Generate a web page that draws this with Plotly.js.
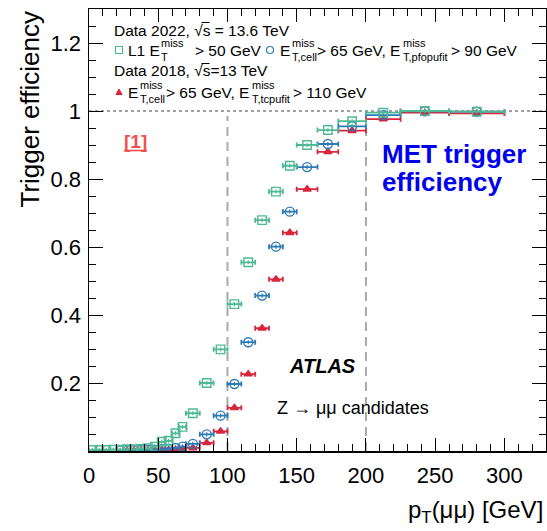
<!DOCTYPE html>
<html>
<head>
<meta charset="utf-8">
<script src="https://cdn.plot.ly/plotly-3.0.1.min.js"></script>
<style>
  html, body { margin: 0; padding: 0; background: #fff; }
  #chart { width: 547px; height: 531px; }
</style>
</head>
<body>
<div id="chart"></div>
<script>
// L1 MET > 50 GeV (Data 2022): bin centres, half widths, efficiencies
const l1Centers = [2.5, 7.5, 12.5, 17.5, 22.5, 27.5, 32.5, 37.5, 42.5, 47.5, 52.5, 57.5, 62.5, 67.5,
                   75, 85, 95, 105, 115, 125, 135, 145, 157.5, 172.5, 190, 212.5, 242.5, 280];
const l1HalfWidths = [2.5, 2.5, 2.5, 2.5, 2.5, 2.5, 2.5, 2.5, 2.5, 2.5, 2.5, 2.5, 2.5, 2.5,
                      5, 5, 5, 5, 5, 5, 5, 5, 7.5, 7.5, 10, 12.5, 17.5, 20];
const l1Eff = [0.003, 0.003, 0.003, 0.004, 0.004, 0.005, 0.005, 0.006, 0.008, 0.013, 0.027, 0.030, 0.052, 0.071,
               0.111, 0.200, 0.299, 0.432, 0.555, 0.679, 0.763, 0.839, 0.900, 0.944, 0.970, 0.995, 1.000, 0.998];

// cell > 65 GeV, pfopufit > 90 GeV (Data 2022)
const pfoCenters = [22.5, 27.5, 32.5, 37.5, 42.5, 47.5, 52.5, 57.5, 62.5, 67.5,
                    75, 85, 95, 105, 115, 125, 135, 145, 157.5, 172.5, 190, 212.5, 242.5, 280];
const pfoHalfWidths = [2.5, 2.5, 2.5, 2.5, 2.5, 2.5, 2.5, 2.5, 2.5, 2.5,
                       5, 5, 5, 5, 5, 5, 5, 5, 7.5, 7.5, 10, 12.5, 17.5, 20];
const pfoEff = [0.002, 0.002, 0.002, 0.003, 0.003, 0.004, 0.005, 0.007, 0.009, 0.013,
                0.021, 0.049, 0.104, 0.197, 0.320, 0.457, 0.601, 0.704, 0.835, 0.903, 0.955, 0.988, 0.999, 0.998];

// cell > 65 GeV, tcpufit > 110 GeV (Data 2018)
const tcCenters = [27.5, 32.5, 37.5, 42.5, 47.5, 52.5, 57.5, 62.5, 67.5,
                   75, 85, 95, 105, 115, 125, 135, 145, 157.5, 172.5, 190, 212.5, 242.5, 280];
const tcHalfWidths = [2.5, 2.5, 2.5, 2.5, 2.5, 2.5, 2.5, 2.5, 2.5,
                      5, 5, 5, 5, 5, 5, 5, 5, 7.5, 7.5, 10, 12.5, 17.5, 20];
const tcEff = [0.001, 0.001, 0.002, 0.002, 0.002, 0.003, 0.003, 0.004, 0.006,
               0.009, 0.024, 0.058, 0.127, 0.226, 0.361, 0.505, 0.642, 0.770, 0.880, 0.942, 0.976, 0.995, 0.993];

const xTickVals = [0, 50, 100, 150, 200, 250, 300];
const xTickText = ['0', '50', '100', '150', '200', '250', '300'];
const yTickVals = [0.2, 0.4, 0.6, 0.8, 1.0, 1.2];
const yTickText = ['0.2', '0.4', '0.6', '0.8', '1', '1.2'];

const GREEN = '#4fb995';
const BLUE = '#2c7bb6';
const RED = '#d7263d';
const FONT = 'Liberation Sans, Arial, Helvetica, sans-serif';

// plot frame in page pixels
const W = 547, H = 531;
const M = { l: 89, r: 1, t: 9, b: 80 };
const PW = W - M.l - M.r, PH = H - M.t - M.b;
const px = (x) => (x - M.l) / PW;
const py = (y) => (M.t + PH - y) / PH;

function series(x, hw, y, name, color, symbol, size, withY) {
  return {
    type: 'scatter', mode: 'markers', name: name,
    x: x, y: y,
    error_x: { type: 'data', array: hw, visible: true, color: color, thickness: 1.8, width: 2.5 },
    error_y: withY ? { type: 'constant', value: 0.006, visible: true, color: color, thickness: 1.2, width: 0 }
                   : { visible: false },
    marker: { symbol: symbol, size: size, color: color, line: { color: color, width: 1.4 } },
    showlegend: false, cliponaxis: true
  };
}

const traces = [
  series(tcCenters, tcHalfWidths, tcEff, 'tcpufit', RED, 'triangle-up', 7, false),
  series(pfoCenters, pfoHalfWidths, pfoEff, 'pfopufit', BLUE, 'circle-open', 9, true),
  series(l1Centers, l1HalfWidths, l1Eff, 'L1', GREEN, 'square-open', 8.5, true)
];

function txt(text, x, y, size, opts) {
  return Object.assign({
    xref: 'paper', yref: 'paper', x: px(x), y: py(y),
    xanchor: 'left', yanchor: 'middle', showarrow: false,
    text: text, font: { family: FONT, size: size, color: '#000' }, borderpad: 0
  }, opts || {});
}

const LS = 15.5, SS = 11;
const r1 = 30, r2 = 50, r3 = 71, r4 = 92;
const UP = 7, DN = 7;
const annotations = [
  txt('Data 2022, √s = 13.6 TeV', 113, r1, LS),
  txt('L1 E', 127, r2, LS),
  txt('miss', 160, r2 - UP, SS), txt('T', 160, r2 + DN, SS),
  txt('> 50 GeV', 194, r2, LS),
  txt('E', 279, r2, LS),
  txt('miss', 291, r2 - UP, SS), txt('T,cell', 291, r2 + DN, SS),
  txt('> 65 GeV, E', 316, r2, LS),
  txt('miss', 402, r2 - UP, SS), txt('T,pfopufit', 402, r2 + DN, SS),
  txt('> 90 GeV', 450, r2, LS),
  txt('Data 2018, √s=13 TeV', 113, r3, LS),
  txt('E', 127, r4, LS),
  txt('miss', 139, r4 - UP, SS), txt('T,cell', 139, r4 + DN, SS),
  txt('> 65 GeV, E', 165, r4, LS),
  txt('miss', 251, r4 - UP, SS), txt('T,tcpufit', 251, r4 + DN, SS),
  txt('> 110 GeV', 292, r4, LS),

  txt('<b>[1]</b>', 135.5, 141, 19,
      { xanchor: 'center', font: { family: FONT, size: 19, color: '#f25050' } }),
  txt('<b>MET trigger</b>', 381, 154, 26, { font: { family: FONT, size: 26, color: '#0000f0' } }),
  txt('<b>efficiency</b>', 381, 182, 26, { font: { family: FONT, size: 26, color: '#0000f0' } }),
  txt('<b><i>ATLAS</i></b>', 288, 366, 20),
  txt('Z → μμ candidates', 276, 408, 18),

  txt('p<sub>T</sub>(μμ) [GeV]', 544, 511, 24, { xanchor: 'right' }),
  txt('Trigger efficiency', 29, 10, 26, { xanchor: 'center', yanchor: 'top', textangle: -90 })
];

// legend marker glyphs, sized in pixels
function pixShape(type, cx, cy, size, color, filled) {
  return {
    type: type, xref: 'paper', yref: 'paper', xsizemode: 'pixel', ysizemode: 'pixel',
    xanchor: px(cx), yanchor: py(cy),
    x0: -size / 2, x1: size / 2, y0: -size / 2, y1: size / 2,
    line: { color: color, width: 1.2 }, fillcolor: filled ? color : 'rgba(0,0,0,0)'
  };
}

// short horizontal stroke given in page pixels
function pixLine(xa, xb, y, color, width) {
  return { type: 'line', xref: 'paper', yref: 'paper', x0: px(xa), x1: px(xb), y0: py(y), y1: py(y),
           line: { color: color, width: width } };
}

const shapes = [
  // unit efficiency reference
  { type: 'line', xref: 'paper', yref: 'y', x0: 0, x1: 1, y0: 1, y1: 1,
    line: { color: '#444', width: 1, dash: '3px,3px' }, layer: 'below' },
  // offline thresholds
  { type: 'line', xref: 'x', yref: 'y', x0: 100, x1: 100, y0: 0, y1: 0.985,
    line: { color: '#aaaaaa', width: 2, dash: '9px,6px' }, layer: 'below' },
  { type: 'line', xref: 'x', yref: 'y', x0: 200, x1: 200, y0: 0, y1: 0.985,
    line: { color: '#aaaaaa', width: 2, dash: '9px,6px' }, layer: 'below' },
  pixShape('rect', 119, r2, 7, GREEN, false),
  pixShape('circle', 270, r2, 7, BLUE, false),
  {
    type: 'path', xref: 'paper', yref: 'paper', xsizemode: 'pixel', ysizemode: 'pixel',
    xanchor: px(119), yanchor: py(r4),
    path: 'M -3 -2.5 L 3 -2.5 L 0 3 Z',
    line: { color: RED, width: 1 }, fillcolor: RED
  },
  // radical bars over "s"
  pixLine(201.5, 209.5, r1 - 7.5, '#000', 1),
  pixLine(201.5, 209.5, r3 - 7.5, '#000', 1),
  // underline of the reference tag
  pixLine(124, 147, 150.5, '#f25050', 1.6)
];

const axisCommon = {
  showline: true, linecolor: '#000', linewidth: 1.5, mirror: 'ticks',
  ticks: 'inside', tickcolor: '#000', tickwidth: 1, showgrid: false, zeroline: false,
  tickfont: { family: FONT, size: 22, color: '#000' }, tickmode: 'array'
};

const layout = {
  width: W, height: H,
  margin: M,
  paper_bgcolor: '#fff', plot_bgcolor: '#fff',
  showlegend: false,
  xaxis: Object.assign({}, axisCommon, {
    range: [0, 330], tickvals: xTickVals, ticktext: xTickText, ticklen: 13,
    ticklabelstandoff: 4,
    minor: { tickmode: 'linear', tick0: 0, dtick: 10, ticks: 'inside', ticklen: 7, tickcolor: '#000', tickwidth: 1 }
  }),
  yaxis: Object.assign({}, axisCommon, {
    range: [0, 1.3], tickvals: yTickVals, ticktext: yTickText, ticklen: 14,
    ticklabelstandoff: 2,
    minor: { tickmode: 'linear', tick0: 0, dtick: 0.05, ticks: 'inside', ticklen: 7, tickcolor: '#000', tickwidth: 1 }
  }),
  annotations: annotations,
  shapes: shapes
};

Plotly.newPlot('chart', traces, layout, { displayModeBar: false, staticPlot: true });
</script>
</body>
</html>
